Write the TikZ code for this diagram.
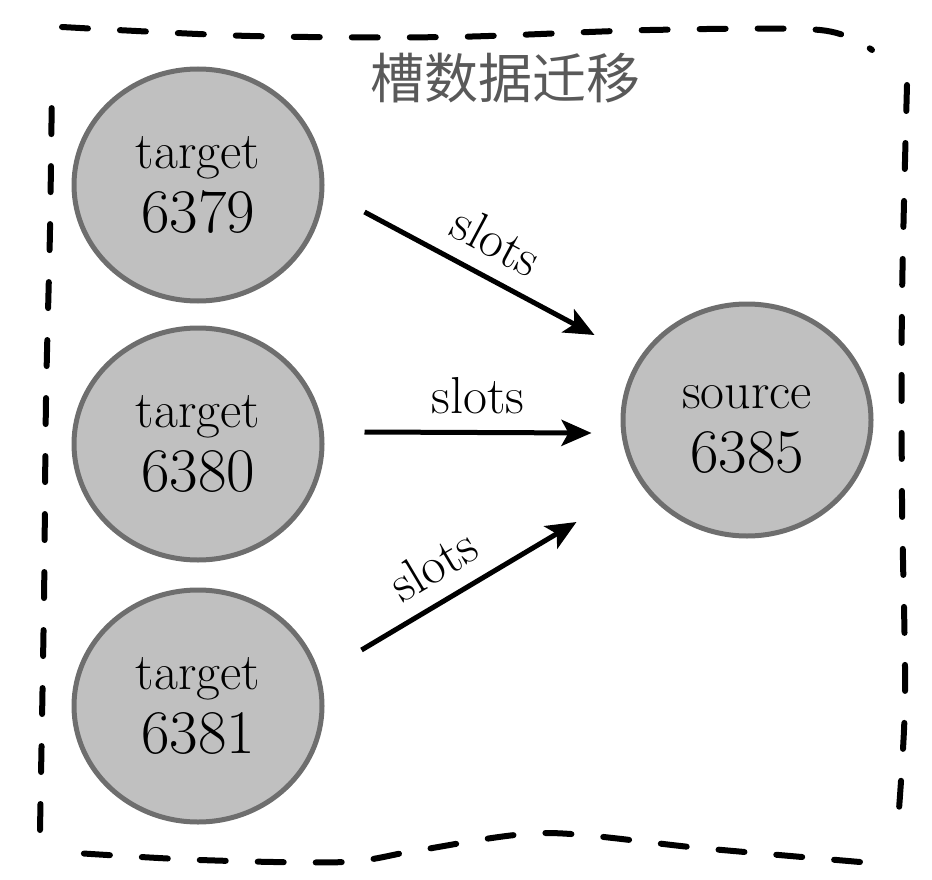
\documentclass[tikz,border=0pt]{standalone}
\usepackage{fontspec}
\newfontfamily\cjk{Noto Sans CJK SC}
\usepackage{tikz}
\usetikzlibrary{arrows.meta,positioning,calc,shapes.geometric}

\definecolor{nodefill}{RGB}{192,192,192}
\definecolor{nodeline}{RGB}{110,110,110}

\begin{document}
\begin{tikzpicture}[x=1pt,y=-1pt,>={Stealth[length=30pt,width=26pt,inset=7pt]},
  srv/.style={ellipse,draw=nodeline,line width=5pt,fill=nodefill,
    minimum width=248pt,minimum height=232pt,inner sep=0pt,align=center,
    font=\fontsize{52}{64}\selectfont},
  flow/.style={->,line width=5pt},
  lbl/.style={sloped,above=14pt,inner sep=2pt,font=\fontsize{52}{52}\selectfont},
  frame/.style={line width=6pt,line cap=round,dash pattern=on 26pt off 32pt}]
\useasboundingbox (0,0) rectangle (932,880);
% migration box
\draw[frame] plot[smooth] coordinates {(62,27) (250,36) (450,37) (650,30) (820,30) (872,50)};
\draw[frame] plot[smooth] coordinates {(907,85) (902,300) (902,500) (905,700) (897,835)};
\draw[frame] plot[smooth] coordinates {(860,862) (700,848) (545,833) (420,850) (345,862) (200,860) (60,852)};
\draw[frame] plot[smooth] coordinates {(40,830) (44,600) (46,400) (50,230) (52,80)};
\node[font=\cjk\fontsize{54}{54}\selectfont,text=black!65] (title) at (505,78) {槽数据迁移};
% nodes
\node[srv] (t1) at (198,185) {target\\{\fontsize{62}{64}\selectfont 6379}};
\node[srv,below=22pt of t1] (t2) {target\\{\fontsize{62}{64}\selectfont 6380}};
\node[srv,below=25pt of t2] (t3) {target\\{\fontsize{62}{64}\selectfont 6381}};
\node[srv] (src) at (747,420) {\raisebox{-10pt}[\height][\depth]{source}\\{\fontsize{62}{64}\selectfont\raisebox{-10pt}[\height][\depth]{6385}}};
% slots go to the source
\draw[flow] ([shift={(40,27)}]t1.east) -- node[lbl] (l1) {slots} ([shift={(-26,-85)}]src.west);
\draw[flow] ([shift={(40,-12)}]t2.east) -- node[lbl] (l2) {slots} ([shift={(-29,13)}]src.west);
\draw[flow] ([shift={(37,-56)}]t3.east) -- node[lbl,pos=0.42] (l3) {slots} ([shift={(-44,102)}]src.west);
\end{tikzpicture}
\end{document}
